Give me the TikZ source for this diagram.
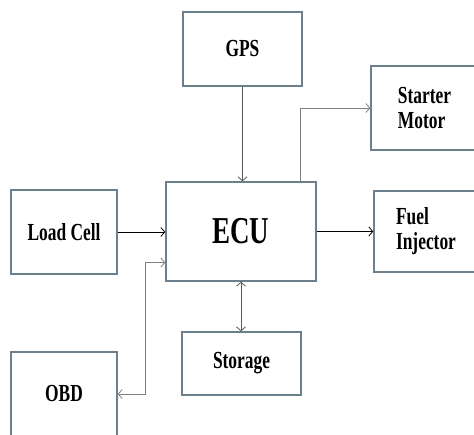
\documentclass[tikz,border=0pt]{standalone}
\usepackage{fontspec}
\newfontfamily\boxfont{Liberation Serif}[FakeStretch=0.71]
\usetikzlibrary{arrows.meta}
\definecolor{boxcol}{rgb}{0.42,0.50,0.55}
\definecolor{edgecol}{rgb}{0.35,0.35,0.35}
\tikzset{
  block/.style={draw=boxcol,line width=1.3pt,fill=white,rectangle,inner sep=0pt,
    font=\boxfont\bfseries\fontsize{24.5}{25}\selectfont,align=left},
  edge/.style={draw=edgecol,line width=0.8pt},
}
\begin{document}
\begin{tikzpicture}[x=1pt,y=-1pt,>={Straight Barb[length=4pt,width=9pt]}]
  \useasboundingbox (0,0) rectangle (474,434);
  \fill[white] (0,0) rectangle (474,434);
%%
  % Node: gps
  \node[block,minimum width=119pt,minimum height=74pt] (gps) at (242.5,49) {GPS};
  % Node: ecu
  \node[block,minimum width=150pt,minimum height=99pt,
        font=\boxfont\bfseries\fontsize{38}{40}\selectfont] (ecu) at (241,231.5) {ECU};
  % Node: load
  \node[block,minimum width=106pt,minimum height=84pt] (load) at (64,232) {Load Cell};
  % Node: starter
  \node[block,minimum width=107pt,minimum height=84pt] (starter) at (424.5,108) {Starter\\Motor};
  % Node: fuel
  \node[block,minimum width=104pt,minimum height=81pt] (fuel) at (426,231.5) {Fuel\\Injector};
  % Node: storage
  \node[block,minimum width=119pt,minimum height=63pt] (storage) at (241.5,363.5) {Storage};
  % Node: obd
  \node[block,minimum width=106pt,minimum height=84pt] (obd) at (64,394) {OBD};
%
  % Edge: gps -> ecu
  \draw[edge,->] (gps.south) -- (gps.south |- ecu.north);
  % Edge: ecu -> starter
  \draw[edge,->,draw=gray] ([xshift=59pt]ecu.north) |- (starter.west);
  % Edge: load -> ecu
  \draw[edge,->,draw=black] (load.east) -- (load.east -| ecu.west);
  % Edge: ecu -> fuel
  \draw[edge,->,draw=black] (ecu.east) -- (ecu.east -| fuel.west);
  % Edge: ecu <-> storage
  \draw[edge,<->] (ecu.south) -- (ecu.south |- storage.north);
  % Edge: ecu <-> obd
  \draw[edge,<->,draw=gray] (obd.east) -- ++(28,0) |- ([yshift=-31pt]ecu.west);
%
\end{tikzpicture}
\end{document}
